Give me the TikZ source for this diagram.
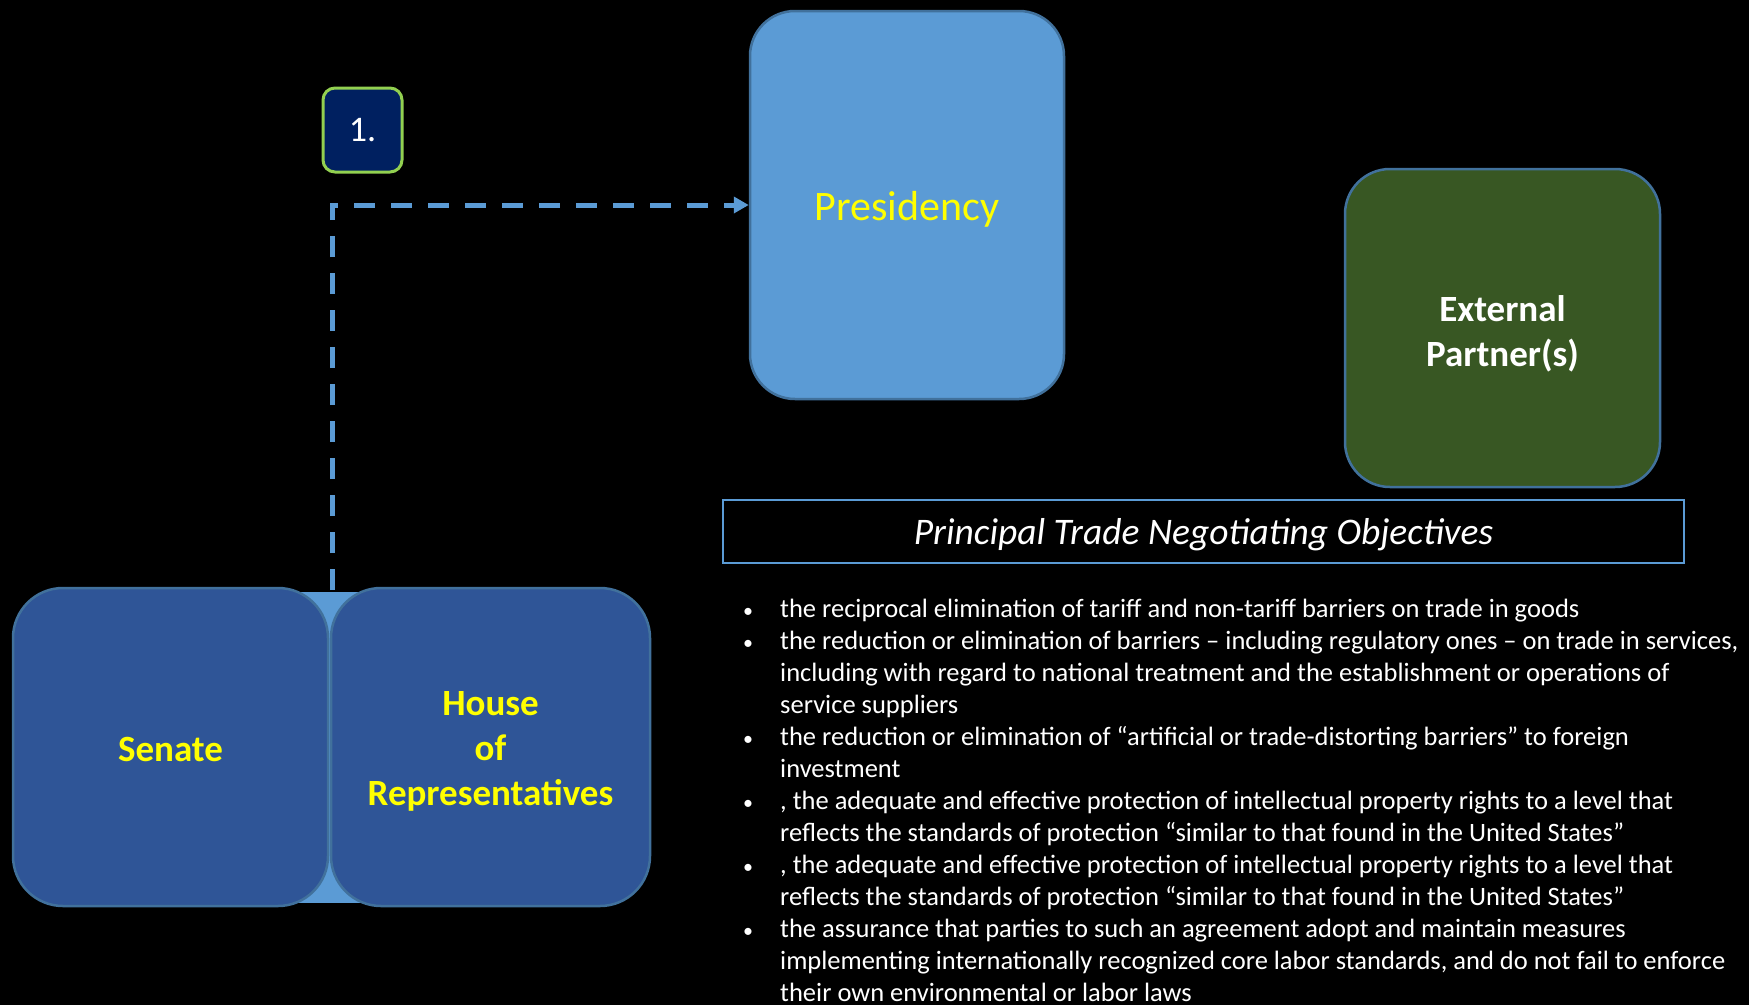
\documentclass[tikz,border=0pt]{standalone}
\usepackage{fontspec}
\setmainfont{Carlito}
\usetikzlibrary{arrows.meta}
\definecolor{navyfill}{HTML}{2F5597}
\definecolor{boxborder}{HTML}{41719C}
\definecolor{lightblue}{HTML}{5B9BD5}
\definecolor{darkgreen}{HTML}{385723}
\definecolor{numfill}{HTML}{002060}
\definecolor{numborder}{HTML}{92D050}
\definecolor{txtyellow}{HTML}{FFFF00}
\tikzset{
  bigbox/.style={draw=boxborder, line width=2.5pt, rounded corners=45pt, inner sep=0pt},
  housebox/.style={bigbox, fill=navyfill, rounded corners=50pt, minimum height=318pt},
  boxlabel/.style={inner sep=0pt, align=center, font=\fontsize{37}{45}\selectfont\bfseries},
  bodyline/.style={anchor=base west, inner sep=0pt, text=white, font=\fontsize{26.5}{32}\selectfont},
  bulletmark/.style={anchor=base, inner sep=0pt, text=white, font=\fontsize{20}{32}\selectfont},
  dasharrow/.style={draw=lightblue, line width=5pt, dash pattern=on 21pt off 16pt, -{Triangle[length=15pt,width=16pt]}}
}
\begin{document}
\begin{tikzpicture}[x=1pt,y=-1pt]
\fill[black] (0,0) rectangle (1749,1005);
\useasboundingbox (0,0) rectangle (1749,1005);
% connecting band behind chambers
\fill[lightblue] (280,592) rectangle (380,903);
% chambers
\node[housebox, minimum width=315pt, label={[boxlabel, text=txtyellow, yshift=-2pt]center:Senate}] (senate) at (170.5,747) {};
\node[housebox, minimum width=319pt, label={[boxlabel, text=txtyellow, yshift=-4.5pt]center:{House\\of\\Representatives}}] (house) at (490.5,747) {};
% presidency
\node[bigbox, fill=lightblue, minimum width=314pt, minimum height=388pt, label={[inner sep=0pt, text=txtyellow, font=\fontsize{42}{50}\selectfont, yshift=-4.5pt]center:Presidency}] (pres) at (907,205) {};
% external partners
\node[bigbox, fill=darkgreen, minimum width=315pt, minimum height=318pt, label={[boxlabel, text=white, yshift=-5.5pt]center:{External\\Partner(s)}}] (ext) at (1502.5,328) {};
% number box
\node[draw=numborder, line width=3pt, fill=numfill, rounded corners=12pt, minimum width=79pt, minimum height=84pt, inner sep=0pt, text=white, font=\fontsize{36}{42}\selectfont] (num) at (362.5,130) {1.};
% dashed connector
\coordinate (start) at (332,590);
\draw[dasharrow] (start) |- (pres.west);
% title box
\node[draw=lightblue, line width=2pt, fill=black, minimum width=961pt, minimum height=63pt, inner sep=0pt, label={[inner sep=0pt, text=white, font=\fontsize{37.5}{45}\selectfont\itshape, yshift=-3pt]center:Principal Trade Negotiating Objectives}] (title) at (1203.5,531.5) {};
% bullets
\node[bulletmark] (b1) at (748,617) {\textbullet};
\node[bulletmark] (b2) at (748,649) {\textbullet};
\node[bulletmark] (b3) at (748,745) {\textbullet};
\node[bulletmark] (b4) at (748,809) {\textbullet};
\node[bulletmark] (b5) at (748,873) {\textbullet};
\node[bulletmark] (b6) at (748,937) {\textbullet};
\node[bodyline] (l1) at (780,617) {the reciprocal elimination of tariff and non-tariff barriers on trade in goods};
\node[bodyline] (l2) at (780,649) {the reduction or elimination of barriers – including regulatory ones – on trade in services,};
\node[bodyline] (l3) at (780,681) {including with regard to national treatment and the establishment or operations of};
\node[bodyline] (l4) at (780,713) {service suppliers};
\node[bodyline] (l5) at (780,745) {the reduction or elimination of “artificial or trade-distorting barriers” to foreign};
\node[bodyline] (l6) at (780,777) {investment};
\node[bodyline] (l7) at (780,809) {, the adequate and effective protection of intellectual property rights to a level that};
\node[bodyline] (l8) at (780,841) {reflects the standards of protection “similar to that found in the United States”};
\node[bodyline] (l9) at (780,873) {, the adequate and effective protection of intellectual property rights to a level that};
\node[bodyline] (l10) at (780,905) {reflects the standards of protection “similar to that found in the United States”};
\node[bodyline] (l11) at (780,937) {the assurance that parties to such an agreement adopt and maintain measures};
\node[bodyline] (l12) at (780,969) {implementing internationally recognized core labor standards, and do not fail to enforce};
\node[bodyline] (l13) at (780,1001) {their own environmental or labor laws};
\end{tikzpicture}
\end{document}
